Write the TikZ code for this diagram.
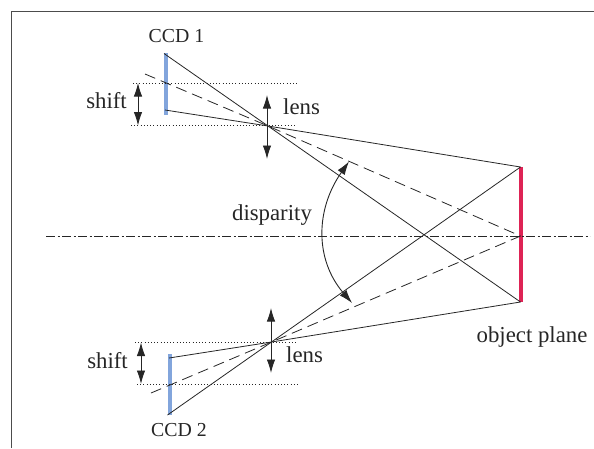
\documentclass[tikz,border=0pt]{standalone}
\usepackage{fontspec}
\setmainfont{Liberation Serif}
\usetikzlibrary{arrows.meta}
\definecolor{ccdblue}{RGB}{130,165,220}
\definecolor{objred}{RGB}{222,35,85}
\begin{document}
\begin{tikzpicture}[x=1pt,y=-1pt,font=\fontsize{22.8}{24}\selectfont,
  >={Latex[length=13.5pt,width=8.5pt]},
  ray/.style={line width=0.8pt, black!85},
  chief/.style={line width=0.8pt, black!85, dash pattern=on 11pt off 6pt},
  guide/.style={line width=0.8pt, black!85, dash pattern=on 1pt off 2.2pt},
  axisline/.style={line width=0.8pt, black!85, dash pattern=on 9pt off 2.5pt on 2pt off 2.5pt},
  arrowline/.style={line width=0.9pt, black!85, <->},
  label/.style={inner sep=0pt, text=black!85},
  ccdlabel/.style={label, font=\fontsize{19.8}{22}\selectfont}]
  \useasboundingbox (0,0) rectangle (594,448);
  \draw[line width=1.2pt, black!70] (11.5,448) -- (11.5,11.5) -- (594,11.5);
  % end points
  \coordinate (c1t) at (166,53);
  \coordinate (c1b) at (166,115);
  \coordinate (c1up) at (164,53.5);
  \coordinate (c1lo) at (165,110);
  \coordinate (c1m) at (145,74);
  \coordinate (l1) at (268,126);
  \coordinate (c2t) at (170,354);
  \coordinate (c2b) at (170,415);
  \coordinate (c2up) at (169,358);
  \coordinate (c2lo) at (167.5,415);
  \coordinate (c2m) at (151,393);
  \coordinate (l2) at (271.5,342);
  \coordinate (ot) at (520.5,167);
  \coordinate (ob) at (520.5,302);
  \coordinate (om) at (520.5,236);
  % sensors and object
  \draw[ccdblue, line width=4pt] (c1t) -- (c1b);
  \draw[ccdblue, line width=4pt] (c2t) -- (c2b);
  \draw[objred, line width=4pt] (ot) -- (ob);
  % guides
  \coordinate (g1a) at (133,83);  \coordinate (g1b) at (297,83);
  \coordinate (g2a) at (131,125.5); \coordinate (g2b) at (295,125.5);
  \coordinate (g3a) at (135,342); \coordinate (g3b) at (298,342);
  \coordinate (g4a) at (137,384); \coordinate (g4b) at (300,384);
  \coordinate (axl) at (46,236);  \coordinate (axr) at (590,236);
  \draw[guide] (g1a) -- (g1b);
  \draw[guide] (g2a) -- (g2b);
  \draw[guide] (g3a) -- (g3b);
  \draw[guide] (g4a) -- (g4b);
  \draw[axisline] (axl) -- (axr);
  % rays
  \draw[ray] (c1up) -- (l1) -- (ob);
  \draw[ray] (c1lo) -- (l1) -- (ot);
  \draw[chief] (c1m) -- (l1) -- (om);
  \draw[ray] (c2lo) -- (l2) -- (ot);
  \draw[ray] (c2up) -- (l2) -- (ob);
  \draw[chief] (c2m) -- (l2) -- (om);
  % arrows
  \coordinate (s1t) at (138,83);
  \coordinate (s1b) at (138,125.5);
  \coordinate (s2t) at (141,342.5);
  \coordinate (s2b) at (141,384);
  \coordinate (a1t) at (267,95);
  \coordinate (a1b) at (267,159);
  \coordinate (a2t) at (271,308);
  \coordinate (a2b) at (271,373);
  \draw[arrowline] (s1t) -- (s1b);
  \draw[arrowline] (s2t) -- (s2b);
  \draw[arrowline] (a1t) -- (a1b);
  \draw[arrowline] (a2t) -- (a2b);
  \coordinate (dt) at (349,161.5);
  \coordinate (db) at (352,303);
  \draw[arrowline] (dt) .. controls (315,210) and (315,260) .. (db);
  % labels
  \node[ccdlabel] (ccd1) at (176.5,36.5) {CCD 1};
  \node[ccdlabel] (ccd2) at (179,430) {CCD 2};
  \node[label, anchor=east] (shift1) at (127,100.5) {shift};
  \node[label, anchor=east] (shift2) at (128,361) {shift};
  \node[label, anchor=west] (lens1) at (283,107) {lens};
  \node[label, anchor=west] (lens2) at (286,355) {lens};
  \node[label] (disp) at (272,215) {disparity};
  \node[label] (objplane) at (532,337) {object plane};
\end{tikzpicture}
\end{document}
